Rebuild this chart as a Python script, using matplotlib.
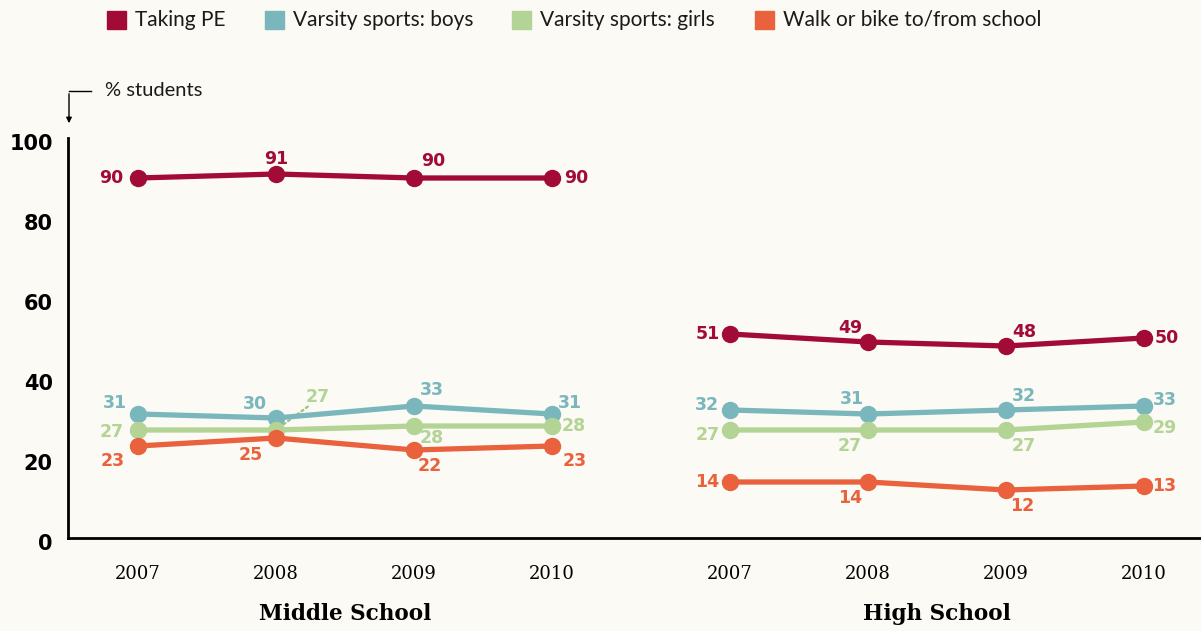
import matplotlib.pyplot as plt
from matplotlib.patches import Rectangle
from matplotlib.transforms import ScaledTranslation

years = ['2007', '2008', '2009', '2010']
series_names = ['Taking PE', 'Varsity sports: boys', 'Varsity sports: girls', 'Walk or bike to/from school']
colors = ['#A30B37', '#7AB7BD', '#B3D494', '#E9613D']

ms_pe = [90, 91, 90, 90]
ms_boys = [31, 30, 33, 31]
ms_girls = [27, 27, 28, 28]
ms_walk = [23, 25, 22, 23]

hs_pe = [51, 49, 48, 50]
hs_boys = [32, 31, 32, 33]
hs_girls = [27, 27, 27, 29]
hs_walk = [14, 14, 12, 13]

ms_x = [0, 1, 2, 3]
hs_x = [4.29, 5.29, 6.29, 7.29]

# label offsets in pixels (dx right, dy up) per series/point
ms_offsets = [
    [(-27, 0), (0, 15), (19, 17), (24, 0)],
    [(-23, 11), (-21, 14), (18, 16), (18, 11)],
    [(-26, -2), (42, 33), (18, -12), (22, 0)],
    [(-25, -15), (-25, -17), (16, -16), (23, -15)],
]
hs_offsets = [
    [(-22, 0), (-18, 14), (18, 14), (23, 0)],
    [(-23, 5), (-16, 15), (18, 14), (21, 6)],
    [(-22, -5), (-18, -16), (18, -16), (21, -6)],
    [(-23, 0), (-18, -16), (16, -16), (20, 0)],
]

bg = '#FBFAF5'
fig = plt.figure(figsize=(12.01, 6.31), dpi=100, facecolor=bg)
ax = fig.add_axes([68 / 1201, 1 - 538 / 631, 1 - 68 / 1201, 400 / 631])
ax.set_facecolor(bg)

px = 0.72  # points per pixel
num_font = dict(family='DejaVu Sans', fontweight='bold', fontsize=12.5)

groups = [(ms_x, [ms_pe, ms_boys, ms_girls, ms_walk], ms_offsets),
          (hs_x, [hs_pe, hs_boys, hs_girls, hs_walk], hs_offsets)]
for xs, data, offs in groups:
    for i, vals in enumerate(data):
        ax.plot(xs, vals, color=colors[i], lw=3.8, marker='o', ms=11.5,
                solid_capstyle='round', zorder=3 + i, clip_on=False)
        for j, v in enumerate(vals):
            dx, dy = offs[i][j]
            ax.annotate(str(v), (xs[j], v), xytext=(dx * px, dy * px),
                        textcoords='offset points', ha='center', va='center',
                        color=colors[i], zorder=10, **num_font)

# dotted leader for middle school 2008 girls label
ax.annotate('', (ms_x[1], ms_girls[1]), xytext=(34 * px, 25 * px),
            textcoords='offset points',
            arrowprops=dict(arrowstyle='-', color='#9CC47A', lw=1.6, ls=(0, (1, 1.5))),
            zorder=2)

ax.set_xlim(-70 / 138, (1201 - 138) / 138)
ax.set_ylim(0, 100)
ax.set_yticks([0, 20, 40, 60, 80, 100])
ax.set_yticklabels(['0', '20', '40', '60', '80', '100'], family='DejaVu Sans',
                   fontweight='bold', fontsize=15)
ax.tick_params(axis='y', length=0, pad=11)
shift = ScaledTranslation(0, -4 / 100, fig.dpi_scale_trans)
for lab in ax.get_yticklabels():
    lab.set_transform(lab.get_transform() + shift)
ax.set_xticks([])
for s in ['top', 'right']:
    ax.spines[s].set_visible(False)
ax.spines['left'].set_linewidth(2)
ax.spines['bottom'].set_linewidth(2)

for xs, title in [(ms_x, 'Middle School'), (hs_x, 'High School')]:
    for x, y in zip(xs, years):
        ax.text(x, -9, y, ha='center', va='center', family='DejaVu Serif',
                fontsize=13)
    ax.text((xs[0] + xs[-1]) / 2, -19, title, ha='center', va='center',
            family='DejaVu Serif', fontweight='bold', fontsize=15.5)

# legend
leg_x = [107, 265, 512, 755]
for i, name in enumerate(series_names):
    fig.patches.append(Rectangle((leg_x[i] / 1201, 1 - 29 / 631), 19 / 1201, 18 / 631,
                                 transform=fig.transFigure, color=colors[i]))
    fig.text((leg_x[i] + 28) / 1201, 1 - 20 / 631, name, family='Lato',
             fontsize=15, va='center', ha='left', color='#1a1a1a')

# "% students" pointer
fig.text(105 / 1201, 1 - 91 / 631, '% students', family='Lato', fontsize=14.5,
         va='center', ha='left', color='#1a1a1a')
fig.add_artist(plt.Line2D([69 / 1201, 91 / 1201], [1 - 91 / 631, 1 - 91 / 631],
                          color='black', lw=1, transform=fig.transFigure))
ax.annotate('', xy=(69 / 1201, 1 - 126 / 631), xytext=(69 / 1201, 1 - 91 / 631),
            xycoords='figure fraction', textcoords='figure fraction',
            arrowprops=dict(arrowstyle='-|>', color='black', lw=1, mutation_scale=8))

fig.savefig('out.png', dpi=100, facecolor=bg)
